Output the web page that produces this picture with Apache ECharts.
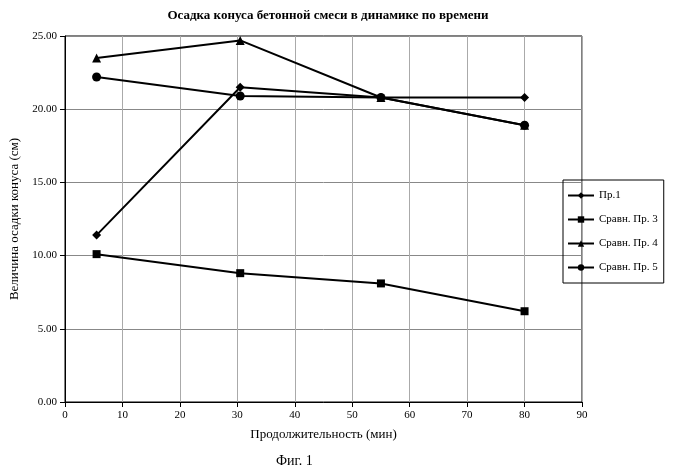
<!DOCTYPE html>
<html><head><meta charset="utf-8">
<script src="https://cdn.jsdelivr.net/npm/echarts@6/dist/echarts.min.js"></script>
<style>html,body{margin:0;padding:0;background:#fff}#c{width:699px;height:476px}</style>
</head><body><div id="c"></div>
<script>
const xValues = [5.5, 30.5, 55, 80];
const pr1 = [11.4, 21.5, 20.8, 20.8];
const sr3 = [10.1, 8.8, 8.1, 6.2];
const sr4 = [23.5, 24.7, 20.8, 18.9];
const sr5 = [22.2, 20.9, 20.8, 18.9];
const names = ['Пр.1', 'Сравн. Пр. 3', 'Сравн. Пр. 4', 'Сравн. Пр. 5'];
const symbols = ['diamond', 'rect', 'triangle', 'circle'];
const sizes = [9, 8, 9, 9];
const data = [pr1, sr3, sr4, sr5];
const ff = 'Liberation Serif';
const chart = echarts.init(document.getElementById('c'));
chart.setOption({
  animation: false,
  textStyle: {fontFamily: ff, color: '#000'},
  title: {text: 'Осадка конуса бетонной смеси в динамике по времени', left: 323, top: 4, textAlign: 'center',
    textStyle: {fontFamily: ff, fontSize: 13, fontWeight: 'bold', color: '#000'}},
  graphic: [{type: 'text', left: 276, top: 454, style: {text: 'Фиг. 1', font: '14px "Liberation Serif"', fill: '#000'}}],
  legend: {orient: 'vertical', left: 563, top: 180, itemGap: 13, itemWidth: 26, itemHeight: 8,
    borderColor: '#000', borderWidth: 1, padding: [10, 6, 10, 4],
    textStyle: {fontFamily: ff, fontSize: 11, color: '#000'}, data: names},
  grid: {left: 64, right: 117, top: 36, bottom: 74, show: true, borderColor: '#000', borderWidth: 1},
  xAxis: {type: 'value', min: 0, max: 90, interval: 10,
    name: 'Продолжительность (мин)', nameLocation: 'middle', nameGap: 26,
    nameTextStyle: {fontFamily: ff, fontSize: 13, color: '#000'},
    axisLine: {lineStyle: {color: '#000'}}, axisTick: {show: true, inside: false, lineStyle: {color: '#000'}},
    axisLabel: {color: '#000', fontFamily: ff, fontSize: 11},
    splitLine: {show: true, lineStyle: {color: '#aaa', width: 1}}},
  yAxis: {type: 'value', min: 0, max: 25, interval: 5,
    name: 'Величина осадки конуса (см)', nameLocation: 'middle', nameGap: 44,
    nameTextStyle: {fontFamily: ff, fontSize: 13, color: '#000'},
    axisLine: {show: true, lineStyle: {color: '#000'}}, axisTick: {show: true, lineStyle: {color: '#000'}},
    axisLabel: {color: '#000', fontFamily: ff, fontSize: 11, formatter: v => v.toFixed(2)},
    splitLine: {show: true, lineStyle: {color: '#888', width: 1}}},
  series: data.map((d, i) => ({
    name: names[i], type: 'line', symbol: symbols[i], symbolSize: sizes[i],
    data: d.map((v, j) => [xValues[j], v]),
    lineStyle: {color: '#000', width: 2}, itemStyle: {color: '#000'}
  }))
});
</script></body></html>
